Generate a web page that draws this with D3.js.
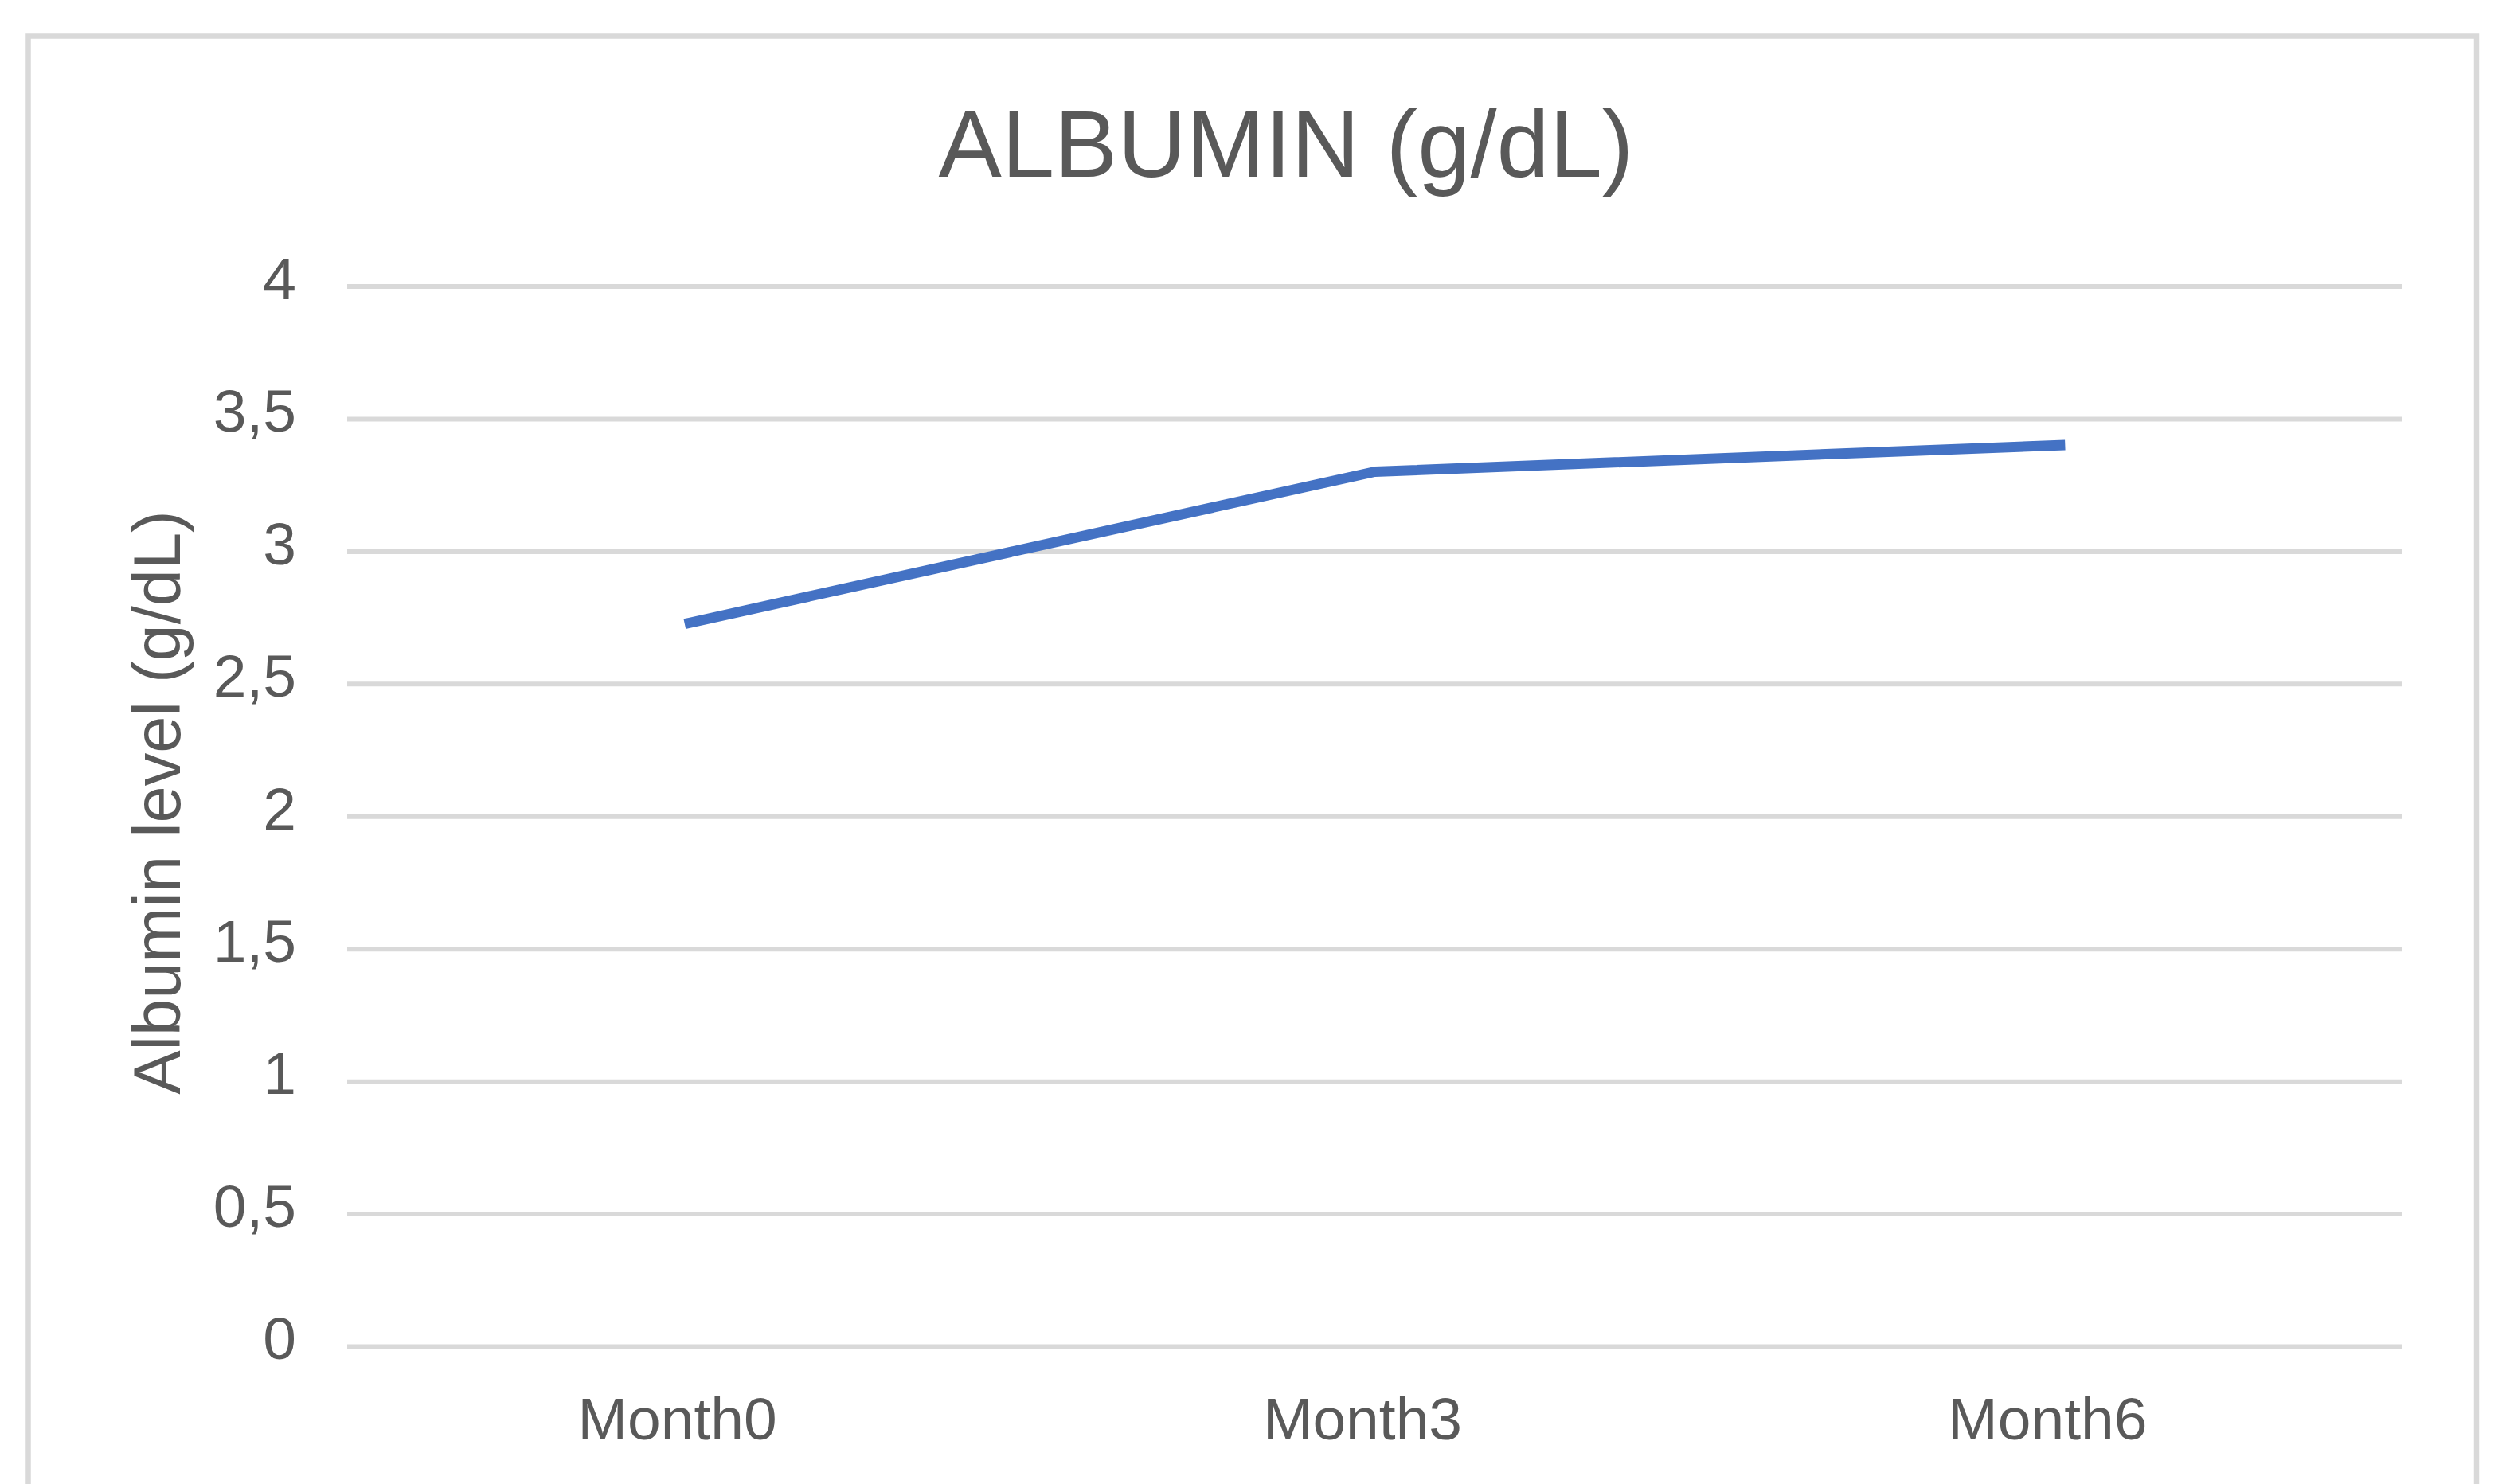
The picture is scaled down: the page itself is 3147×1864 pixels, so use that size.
<!DOCTYPE html>
<html>
<head>
<meta charset="utf-8">
<script src="https://cdn.jsdelivr.net/npm/d3@7"></script>
<style>
  html, body { margin: 0; padding: 0; background: #ffffff; }
  svg { display: block; }
  text { font-family: "Liberation Sans", Arial, Helvetica, sans-serif; fill: #595959; }
</style>
</head>
<body>
<script>
// ---- data ----
const categories = ["Month0", "Month3", "Month6"];
const albumin = [2.73, 3.30, 3.40];
const yTickValues = [0, 0.5, 1, 1.5, 2, 2.5, 3, 3.5, 4];
const yTickLabels = ["0", "0,5", "1", "1,5", "2", "2,5", "3", "3,5", "4"];
const chartTitle = "ALBUMIN (g/dL)";
const yAxisTitle = "Albumin level (g/dL)";

// ---- layout ----
const W = 3147, H = 1864;
const plot = { left: 436, right: 3017, top: 359.5, bottom: 1691 };

const svg = d3.select("body").append("svg")
  .attr("width", W).attr("height", H);

svg.append("rect").attr("width", W).attr("height", H).attr("fill", "#ffffff");

// chart border (bottom edge runs off the page)
svg.append("rect")
  .attr("x", 35.5).attr("y", 45.5)
  .attr("width", 3110 - 35.5).attr("height", 1960)
  .attr("fill", "none")
  .attr("stroke", "#d9d9d9")
  .attr("stroke-width", 6.5);

const x = d3.scalePoint().domain(categories).range([plot.left, plot.right]).padding(0.5);
const y = d3.scaleLinear().domain([0, 4]).range([plot.bottom, plot.top]);

// y axis with gridlines
const yAxis = svg.append("g")
  .attr("transform", `translate(${plot.left},0)`)
  .call(d3.axisLeft(y)
    .tickValues(yTickValues)
    .tickSize(-(plot.right - plot.left))
    .tickPadding(64)
    .tickFormat((d, i) => yTickLabels[i]));
yAxis.select(".domain").remove();
yAxis.selectAll(".tick line")
  .attr("stroke", "#d9d9d9")
  .attr("stroke-width", 6);
yAxis.selectAll(".tick text")
  .attr("font-size", 75)
  .attr("dy", "0.21em")
  .style("fill", "#595959");

// x axis labels
const xAxis = svg.append("g")
  .attr("transform", `translate(0,${plot.bottom})`)
  .call(d3.axisBottom(x).tickSize(0).tickPadding(64));
xAxis.select(".domain").remove();
xAxis.selectAll(".tick text")
  .attr("font-size", 75)
  .attr("dx", -16)
  .style("fill", "#595959");

// line
const line = d3.line()
  .x((d, i) => x(categories[i]))
  .y(d => y(d));

svg.append("path")
  .datum(albumin)
  .attr("d", line)
  .attr("fill", "none")
  .attr("stroke", "#4472c4")
  .attr("stroke-width", 13)
  .attr("stroke-linecap", "square")
  .attr("stroke-linejoin", "round");

// chart title
svg.append("text")
  .attr("x", 1615).attr("y", 222)
  .attr("text-anchor", "middle")
  .attr("font-size", 119)
  .text(chartTitle);

// y axis title
svg.append("text")
  .attr("transform", "translate(226,1008) rotate(-90)")
  .attr("text-anchor", "middle")
  .attr("font-size", 83)
  .text(yAxisTitle);
</script>
</body>
</html>
